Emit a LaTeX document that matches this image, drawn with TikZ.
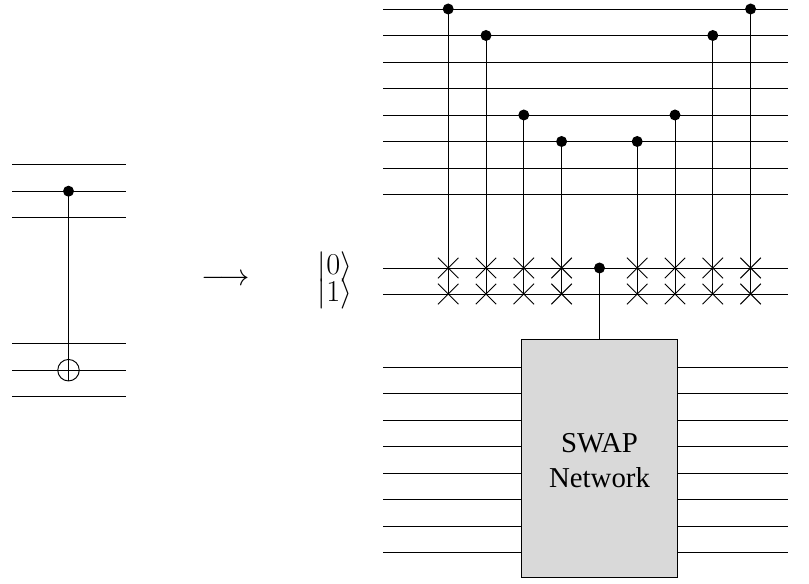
\documentclass[tikz,border=0pt]{standalone}
\usepackage{fontspec}
\setmainfont{Liberation Serif}
\usetikzlibrary{shapes.misc}
\tikzset{
    wire/.style = {line width = 0.55pt},
    ctrl/.style = {circle, fill, inner sep = 0pt, minimum size = 0.22cm},
    target/.style = {circle, draw, line width = 0.55pt, inner sep = 0pt, minimum size = 0.43cm},
    swapcross/.style = {cross out, draw, line width = 0.55pt, inner sep = 0pt, minimum size = 0.39cm},
    swapbox/.style = {draw, line width = 0.55pt, fill = black!15, inner sep = 0pt, minimum width = 3.12cm, minimum height = 4.78cm}
}
\begin{document}
\begin{tikzpicture}[x = 0.02cm, y = -0.02cm, font = \fontsize{16.4}{20.3}\selectfont]
    \useasboundingbox (0,0) rectangle (809,584);
    % Parametri
    \pgfmathsetmacro{\dy}{26.5}
    % Circuito a sinistra
    \foreach \i/\w in {0/164.7, 1/191.2, 2/217.7, 3/343.7, 4/370.2, 5/396.7}{
        \coordinate (a\i) at (12,\w);
        \coordinate (b\i) at (125.5,\w);
        \draw[wire] (a\i) -- (b\i);
    }
    \node[ctrl] (cnotc) at (68.5,191.2) {};
    \node[target] (cnott) at (68.5,370.2) {};
    \draw[wire] (cnotc.center) -- (cnott.south);
    % Freccia
    \node (maps) at (225.5,280) {$\longrightarrow$};
    % Ket
    \node (ket0) at (335,266.8) {$|0\rangle$};
    \node (ket1) at (335,293.8) {$|1\rangle$};
    % Registri in alto
    \foreach \i in {0,...,7}{
        \coordinate (tl\i) at (383,{9+\i*\dy});
        \coordinate (tr\i) at (788,{9+\i*\dy});
        \draw[wire] (tl\i) -- (tr\i);
    }
    % Ancille
    \coordinate (zl) at (383,268);
    \coordinate (zr) at (788,268);
    \coordinate (ol) at (383,294);
    \coordinate (or) at (788,294);
    \draw[wire] (zl) -- (zr);
    \draw[wire] (ol) -- (or);
    % Swap controllati
    \foreach \n/\x/\i in {1/448.2/0, 2/486/1, 3/523.8/4, 4/561.6/5, 5/637.2/5, 6/675/4, 7/712.8/1, 8/750.6/0}{
        \node[ctrl] (c\n) at (\x,{9+\i*\dy}) {};
        \node[swapcross] (s\n) at (\x,268) {};
        \node[swapcross] (d\n) at (\x,294) {};
        \draw[wire] (c\n.center) -- (d\n.center);
    }
    % Rete di SWAP
    \node[swapbox] (net) at (599.5,458.5) {};
    \node[align = center] (netlabel) at (599.5,460.5) {SWAP\\Network};
    \node[ctrl] (cm) at (599.5,268) {};
    \draw[wire] (cm.center) -- (net.north);
    \foreach \i in {0,...,7}{
        \coordinate (ll\i) at (383,{367+\i*\dy});
        \coordinate (lr\i) at (788,{367+\i*\dy});
        \draw[wire] (ll\i) -- (net.west |- ll\i);
        \draw[wire] (net.east |- lr\i) -- (lr\i);
    }
\end{tikzpicture}
\end{document}
